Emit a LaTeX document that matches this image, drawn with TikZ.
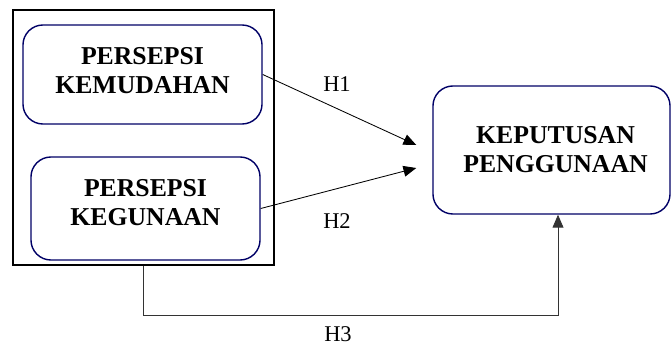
\documentclass[tikz,border=0pt]{standalone}
\usepackage{fontspec}
\setmainfont{Liberation Serif}
\usetikzlibrary{arrows.meta,positioning,calc}

% extra depth under the last line, lifts the text in its box
\newcommand{\liftpad}[1]{\rule[-#1]{0pt}{#1}}

\begin{document}
\begin{tikzpicture}[
  x=0.025cm, y=-0.025cm,
  font=\fontsize{18.3}{20.6}\selectfont,
  varbox/.style={
    rectangle, rounded corners=0.5cm,
    draw=blue!40!black, line width=1pt,
    inner sep=0pt, align=center, font=\fontsize{18.3}{20.6}\selectfont\bfseries
  },
  framebox/.style={
    rectangle, draw=black, line width=1.4pt, inner sep=0pt
  },
  hlabel/.style={font=\fontsize{16}{18}\selectfont},
  arrow/.style={
    -{Triangle[length=0.32cm,width=0.27cm]}, line width=0.6pt
  }
]
\useasboundingbox (0,0) rectangle (671,347);

% Independent variables in one frame
\node[framebox, minimum width=6.525cm, minimum height=6.375cm] (frame) at (143.5,137.5) {};
\node[varbox, minimum width=5.975cm, minimum height=2.475cm] (mudah) at (142.5,74.5) {PERSEPSI\\KEMUDAHAN\liftpad{0.225cm}};
\node[varbox, minimum width=5.725cm, minimum height=2.575cm] (guna) at (145.5,208.5) {PERSEPSI\\KEGUNAAN\liftpad{0.325cm}};

% Dependent variable
\node[varbox, minimum width=5.925cm, minimum height=3.2cm] (putus) at (551.5,150) {\hspace*{0.2cm}KEPUTUSAN\\\hspace*{0.2cm}PENGGUNAAN};

% Arrow ends
\coordinate (h1end) at ($(putus.west)+(-16,-5)$);
\coordinate (h2end) at ($(putus.west)+(-16,18)$);
\coordinate (h3low) at ($(frame.south)+(0,49)$);
\coordinate (h3end) at ($(putus.south)+(6.5,0)$);

% Arrows
\draw[arrow] (mudah.east) -- (h1end);
\draw[arrow] (guna.east) -- (h2end);
\draw[arrow, draw=black!80] (frame.south) -- (h3low) -| (h3end);

% Hypothesis labels
\node[hlabel] (h1) at (337,84.5) {H1};
\node[hlabel] (h2) at (337,221) {H2};
\node[hlabel] (h3) at (338,334.5) {H3};

\end{tikzpicture}
\end{document}
